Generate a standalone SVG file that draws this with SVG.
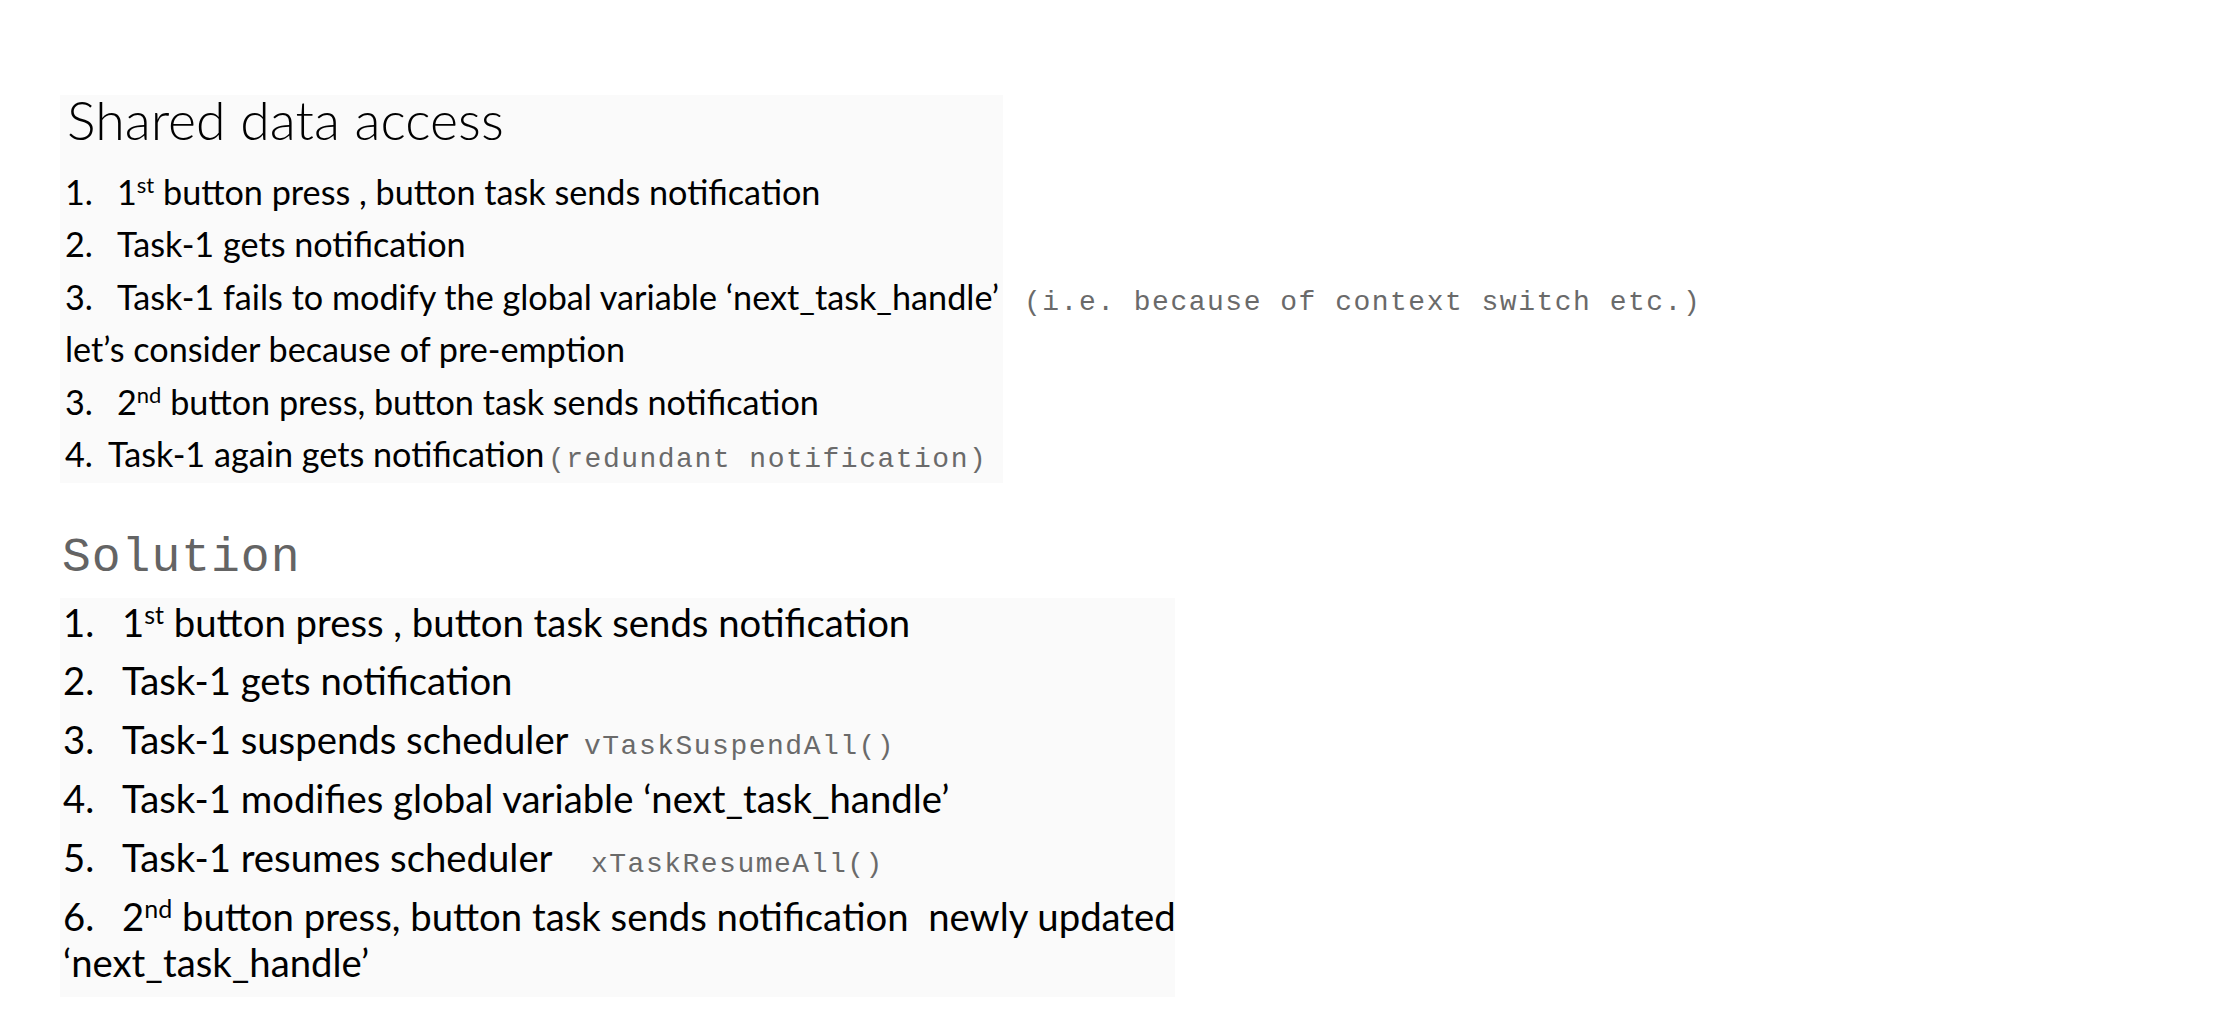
<svg xmlns="http://www.w3.org/2000/svg" width="2238" height="1030" viewBox="0 0 2238 1030">
<style>
.b1{font-family:Lato,"Liberation Sans",sans-serif;font-size:34.2px;fill:#000}
.b2{font-family:Lato,"Liberation Sans",sans-serif;font-size:38.3px;fill:#000}
.title{font-family:Lato,"Liberation Sans",sans-serif;font-weight:300;font-size:53.7px;fill:#000}
.mono{font-family:"Liberation Mono",monospace;font-size:28px;letter-spacing:1.5px;fill:#6a6a6a}
.sol{font-family:"Liberation Mono",monospace;font-size:48px;letter-spacing:1px;fill:#646464}
.panel{fill:#fafafa}
</style>
<rect x="0" y="0" width="2238" height="1030" fill="#ffffff"/>
<g id="problem">
<rect class="panel" x="60" y="95" width="943" height="388"/>
<text class="title" x="67" y="140">Shared data access</text>
<text class="b1" y="205"><tspan x="65">1.</tspan><tspan x="117">1</tspan><tspan font-size="22" dy="-12">st</tspan><tspan dy="12"> button press , button task sends notification</tspan></text>
<text class="b1" y="257"><tspan x="65">2.</tspan><tspan x="117">Task-1 gets notification</tspan></text>
<text class="b1" y="310"><tspan x="65">3.</tspan><tspan x="117">Task-1 fails to modify the global variable ‘next_task_handle’</tspan></text>
<text class="mono" x="1024" y="310">(i.e. because of context switch etc.)</text>
<text class="b1" x="65" y="362">let’s consider because of pre-emption</text>
<text class="b1" y="415"><tspan x="65">3.</tspan><tspan x="117">2</tspan><tspan font-size="22" dy="-12">nd</tspan><tspan dy="12"> button press, button task sends notification</tspan></text>
<text class="b1" y="467"><tspan x="65">4.</tspan><tspan x="108">Task-1 again gets notification</tspan></text>
<text class="mono" x="548" y="467">(redundant notification)</text>
</g>
<g id="solution">
<text class="sol" x="62" y="571">Solution</text>
<rect class="panel" x="60" y="598" width="1115" height="399"/>
<text class="b2" y="637"><tspan x="63">1.</tspan><tspan x="122">1</tspan><tspan font-size="25" dy="-13">st</tspan><tspan dy="13"> button press , button task sends notification</tspan></text>
<text class="b2" y="695"><tspan x="63">2.</tspan><tspan x="122">Task-1 gets notification</tspan></text>
<text class="b2" y="754"><tspan x="63">3.</tspan><tspan x="122">Task-1 suspends scheduler</tspan></text>
<text class="mono" x="584" y="754">vTaskSuspendAll()</text>
<text class="b2" y="813"><tspan x="63">4.</tspan><tspan x="122">Task-1 modifies global variable ‘next_task_handle’</tspan></text>
<text class="b2" y="872"><tspan x="63">5.</tspan><tspan x="122">Task-1 resumes scheduler</tspan></text>
<text class="mono" x="591" y="872">xTaskResumeAll()</text>
<text class="b2" y="931"><tspan x="63">6.</tspan><tspan x="122">2</tspan><tspan font-size="25" dy="-13">nd</tspan><tspan dy="13" xml:space="preserve"> button press, button task sends notification  newly updated</tspan></text>
<text class="b2" x="63" y="977">‘next_task_handle’</text>
</g>
</svg>
